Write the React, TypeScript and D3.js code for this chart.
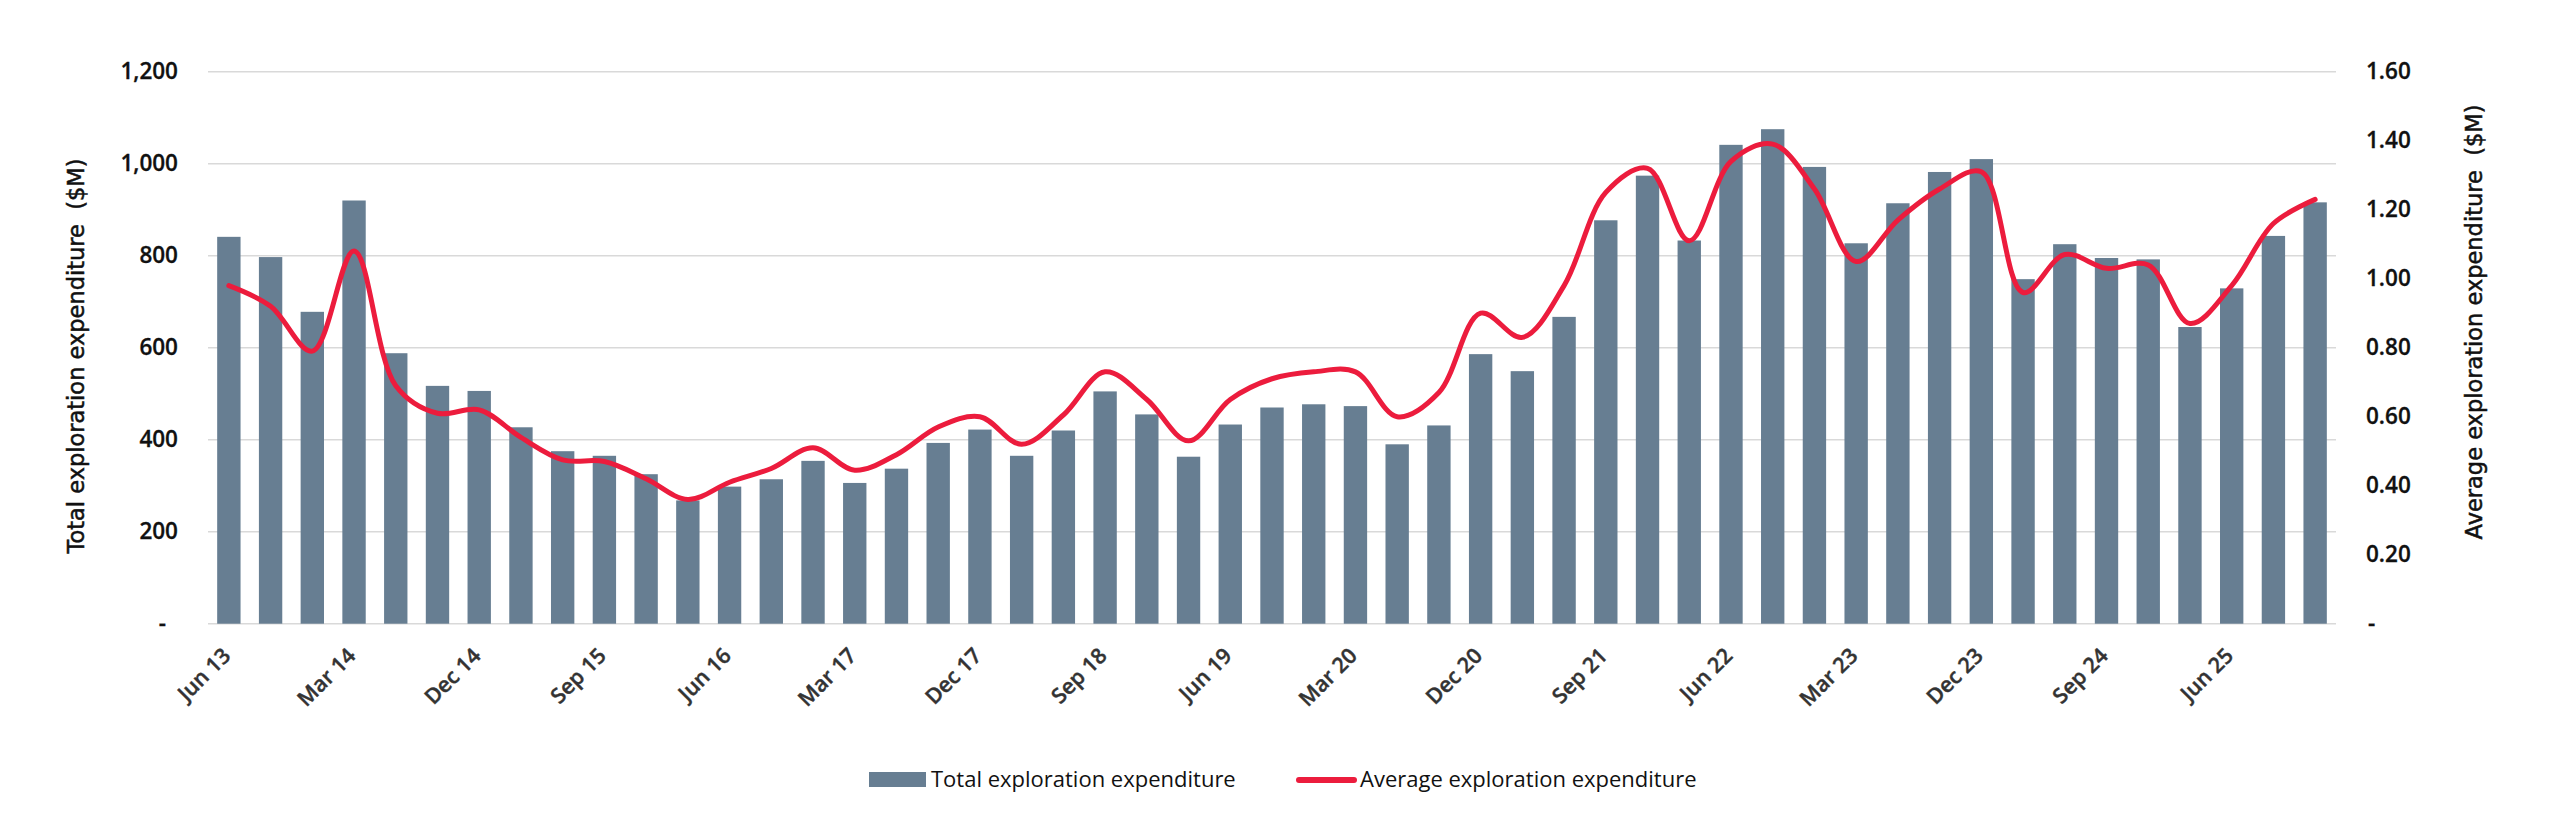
import React, { useEffect, useRef } from 'react';
import * as d3 from 'd3';

// quarterly series, Jun 13 .. Dec 25
const quarters = [
  'Jun 13', 'Sep 13', 'Dec 13',
  'Mar 14', 'Jun 14', 'Sep 14', 'Dec 14',
  'Mar 15', 'Jun 15', 'Sep 15', 'Dec 15',
  'Mar 16', 'Jun 16', 'Sep 16', 'Dec 16',
  'Mar 17', 'Jun 17', 'Sep 17', 'Dec 17',
  'Mar 18', 'Jun 18', 'Sep 18', 'Dec 18',
  'Mar 19', 'Jun 19', 'Sep 19', 'Dec 19',
  'Mar 20', 'Jun 20', 'Sep 20', 'Dec 20',
  'Mar 21', 'Jun 21', 'Sep 21', 'Dec 21',
  'Mar 22', 'Jun 22', 'Sep 22', 'Dec 22',
  'Mar 23', 'Jun 23', 'Sep 23', 'Dec 23',
  'Mar 24', 'Jun 24', 'Sep 24', 'Dec 24',
  'Mar 25', 'Jun 25', 'Sep 25', 'Dec 25',
];

// total exploration expenditure ($M)
const totalSpend = [
  841, 797, 678,
  920, 588, 517, 506,
  427, 375, 365, 325,
  268, 298, 314, 354,
  306, 337, 393, 422,
  365, 420, 505, 455,
  363, 433, 470, 477,
  473, 390, 431, 586,
  549, 667, 877, 974,
  833, 1041, 1075, 993,
  827, 914, 982, 1010,
  749, 825, 795, 792,
  645, 729, 843, 916,
];

// average exploration expenditure ($M)
const avgSpend = [
  0.98, 0.92, 0.79,
  1.08, 0.69, 0.61, 0.62,
  0.54, 0.475, 0.47, 0.42,
  0.36, 0.41, 0.45, 0.51,
  0.445, 0.49, 0.57, 0.6,
  0.52, 0.605, 0.73, 0.65,
  0.53, 0.65, 0.71, 0.73,
  0.73, 0.6, 0.67, 0.9,
  0.83, 0.98, 1.25, 1.32,
  1.11, 1.34, 1.39, 1.26,
  1.05, 1.17, 1.26, 1.31,
  0.96, 1.07, 1.03, 1.04,
  0.87, 0.98, 1.16, 1.23,
];

const leftTicks = [0, 200, 400, 600, 800, 1000, 1200];
const rightTicks = [0, 0.2, 0.4, 0.6, 0.8, 1.0, 1.2, 1.4, 1.6];
const legendLabels = ['Total exploration expenditure', 'Average exploration expenditure'];
const axisTitles = ['Total exploration expenditure  ($M)', 'Average exploration expenditure  ($M)'];

const BAR = '#677e92';
const RED = '#ec1c3d';
const FONT = "'Open Sans', 'Noto Sans', sans-serif";
const TITLE_FONT = "'DejaVu Sans', Verdana, sans-serif";

const App = () => {
  const ref = useRef<SVGSVGElement>(null);

  useEffect(() => {
    const svg = d3.select(ref.current);
    svg.selectAll('*').remove();

    const left = 208, right = 2336, top = 71.7, bottom = 623.7;

    const x = d3.scaleBand()
      .domain(quarters)
      .range([left, right])
      .paddingInner(0.44)
      .paddingOuter(0.22);
    const bw = x.bandwidth();

    const yL = d3.scaleLinear().domain([0, 1200]).range([bottom, top]);
    const yR = d3.scaleLinear().domain([0, 1.6]).range([bottom, top]);

    // gridlines
    svg.append('g')
      .selectAll('line')
      .data(leftTicks)
      .enter().append('line')
      .attr('x1', left)
      .attr('x2', right)
      .attr('y1', d => yL(d))
      .attr('y2', d => yL(d))
      .attr('stroke', '#d9d9d9')
      .attr('stroke-width', 1.5);

    // bars
    svg.append('g')
      .selectAll('rect')
      .data(totalSpend)
      .enter().append('rect')
      .attr('x', (d, i) => x(quarters[i]))
      .attr('y', d => yL(d))
      .attr('width', bw)
      .attr('height', d => yL(0) - yL(d))
      .attr('fill', BAR);

    // smoothed average line
    const line = d3.line<number>()
      .x((d, i) => x(quarters[i]) + bw / 2)
      .y(d => yR(d))
      .curve(d3.curveCatmullRom.alpha(0.5));

    svg.append('path')
      .datum(avgSpend)
      .attr('d', line)
      .attr('fill', 'none')
      .attr('stroke', RED)
      .attr('stroke-width', 5)
      .attr('stroke-linecap', 'round')
      .attr('stroke-linejoin', 'round');

    // left axis
    const gl = svg.append('g')
      .attr('transform', 'translate(181,0)')
      .call(d3.axisLeft(yL)
        .tickValues(leftTicks)
        .tickSize(0)
        .tickPadding(3)
        .tickFormat(d => (+d === 0 ? '-' : d3.format(',')(+d))));
    gl.select('.domain').remove();
    gl.attr('font-family', FONT).attr('font-size', 22.5).attr('font-weight', 600).attr('color', '#111');
    gl.selectAll('text').attr('stroke', '#111').attr('stroke-width', 0.3);
    gl.selectAll('text').filter(d => d === 0).attr('dx', -12);

    // right axis
    const gr = svg.append('g')
      .attr('transform', 'translate(2364,0)')
      .call(d3.axisRight(yR)
        .tickValues(rightTicks)
        .tickSize(0)
        .tickPadding(2)
        .tickFormat(d => (+d === 0 ? '-' : d3.format('.2f')(+d))));
    gr.select('.domain').remove();
    gr.attr('font-family', FONT).attr('font-size', 22.5).attr('font-weight', 600).attr('color', '#111');
    gr.selectAll('text').attr('stroke', '#111').attr('stroke-width', 0.3);
    gr.selectAll('text').filter(d => d === 0).attr('dx', 2);

    // category labels, every third quarter
    svg.append('g')
      .selectAll('text')
      .data(quarters.filter((q, i) => i % 3 === 0))
      .enter().append('text')
      .attr('transform', d => `translate(${x(d) + bw / 2 + 3},657) rotate(-45)`)
      .attr('text-anchor', 'end')
      .attr('font-family', FONT)
      .attr('font-size', 21.5)
      .attr('font-weight', 600)
      .attr('fill', '#333')
      .attr('stroke', '#333')
      .attr('stroke-width', 0.4)
      .text(d => d);

    // axis titles
    const titles = [
      { t: axisTitles[0], x: 76, y: 356 },
      { t: axisTitles[1], x: 2474, y: 322 },
    ];
    svg.append('g')
      .selectAll('text')
      .data(titles)
      .enter().append('text')
      .attr('transform', d => `translate(${d.x},${d.y}) rotate(-90)`)
      .attr('text-anchor', 'middle')
      .attr('dominant-baseline', 'central')
      .attr('font-family', TITLE_FONT)
      .attr('font-size', 22.5)
      .attr('fill', '#111')
      .attr('stroke', '#111')
      .attr('stroke-width', 0.5)
      .style('white-space', 'pre')
      .text(d => d.t);

    // legend
    const lg = svg.append('g')
      .attr('font-family', FONT)
      .attr('font-size', 22)
      .attr('fill', '#111');
    lg.append('rect')
      .attr('x', 869).attr('y', 772)
      .attr('width', 57).attr('height', 15)
      .attr('fill', BAR);
    lg.append('text')
      .attr('x', 931).attr('y', 787)
      .text(legendLabels[0]);
    lg.append('line')
      .attr('x1', 1299).attr('x2', 1354)
      .attr('y1', 780).attr('y2', 780)
      .attr('stroke', RED)
      .attr('stroke-width', 6)
      .attr('stroke-linecap', 'round');
    lg.append('text')
      .attr('x', 1360).attr('y', 787)
      .text(legendLabels[1]);
  }, []);

  return (
    <svg
      ref={ref}
      width={2560}
      height={837}
      style={{ position: 'absolute', left: 0, top: 0, background: '#fff' }}
    />
  );
};

export default App;
